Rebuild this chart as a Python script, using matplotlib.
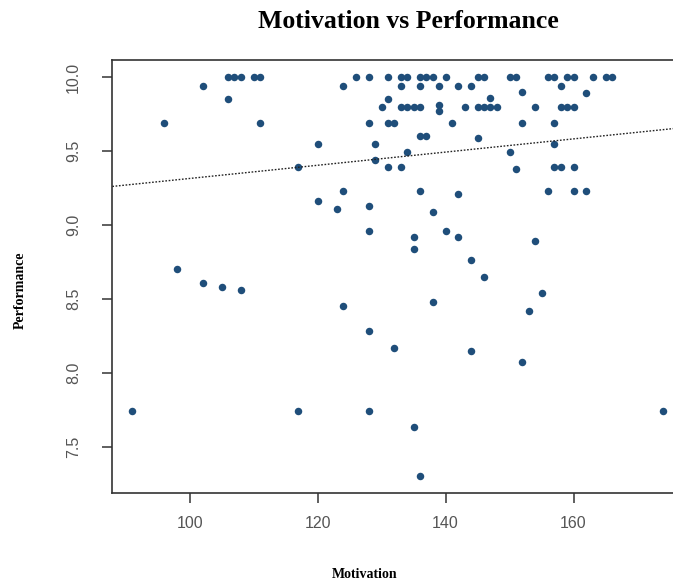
import matplotlib
matplotlib.use("Agg")
import matplotlib.pyplot as plt

# Motivation score (x) and Performance score (y)
motivation = [
    106, 107, 108, 110, 111, 126, 128, 131, 133, 134, 136, 137, 138, 140,
    145, 146, 150, 151, 156, 157, 159, 160, 163, 165, 166,
    102, 124, 133, 136, 139, 142, 144, 158, 152, 162,
    106, 131, 147,
    130, 133, 134, 135, 136, 139, 143, 145, 146, 147, 148, 154, 158, 159, 160, 139,
    96, 111, 128, 131, 132, 141, 152, 157,
    136, 137, 145,
    120, 129, 157,
    134, 150, 129,
    117, 131, 133, 151, 157, 158, 160,
    124, 136, 156, 160, 162, 142,
    120, 128, 123, 138,
    128, 140, 135, 142, 154, 135,
    144, 98, 146, 102, 105, 108, 155, 138, 124, 153,
    128, 132, 144, 152,
    91, 117, 128, 174,
    135, 136,
]
performance = [
    10.0, 10.0, 10.0, 10.0, 10.0, 10.0, 10.0, 10.0, 10.0, 10.0, 10.0, 10.0, 10.0, 10.0,
    10.0, 10.0, 10.0, 10.0, 10.0, 10.0, 10.0, 10.0, 10.0, 10.0, 10.0,
    9.94, 9.94, 9.94, 9.94, 9.94, 9.94, 9.94, 9.94, 9.90, 9.89,
    9.85, 9.85, 9.86,
    9.80, 9.80, 9.80, 9.80, 9.80, 9.81, 9.80, 9.80, 9.80, 9.80, 9.80, 9.80, 9.80, 9.80, 9.80, 9.77,
    9.69, 9.69, 9.69, 9.69, 9.69, 9.69, 9.69, 9.69,
    9.60, 9.60, 9.59,
    9.55, 9.55, 9.55,
    9.49, 9.49, 9.44,
    9.39, 9.39, 9.39, 9.38, 9.39, 9.39, 9.39,
    9.23, 9.23, 9.23, 9.23, 9.23, 9.21,
    9.16, 9.13, 9.11, 9.09,
    8.96, 8.96, 8.92, 8.92, 8.89, 8.835,
    8.76, 8.70, 8.65, 8.61, 8.58, 8.56, 8.54, 8.48, 8.45, 8.42,
    8.28, 8.17, 8.15, 8.07,
    7.74, 7.74, 7.74, 7.74,
    7.63, 7.30,
]

# fitted line drawn dotted across the plot
fit_intercept = 8.868
fit_slope = 0.00446

x_ticks = [100, 120, 140, 160]
y_ticks = [7.5, 8.0, 8.5, 9.0, 9.5, 10.0]

W, H = 673, 584
fig = plt.figure(figsize=(W / 100, H / 100), dpi=100)
# plot region runs past the right edge, like the cropped original
ax = fig.add_axes([112.3 / W, 1 - 492.7 / H, (683.6 - 112.3) / W, (492.7 - 60) / H])

ax.plot(motivation, performance, "o", color="#1f4e7a", markersize=5.4,
        markeredgewidth=0, clip_on=False)
ax.axline((0, fit_intercept), slope=fit_slope, color="#222222",
          linestyle=(0, (1.2, 1.2)), linewidth=1.0)

ax.set_xlim(87.9, 177.2)
ax.set_ylim(7.189, 10.115)

ax.set_xticks(x_ticks)
ax.set_xticklabels([str(t) for t in x_ticks])
ax.set_yticks(y_ticks)
ax.set_yticklabels([f"{t:.1f}" for t in y_ticks], rotation=90, va="center")

for s in ax.spines.values():
    s.set_linewidth(1.2)
    s.set_color("#333333")

ax.tick_params(direction="out", length=7.5, width=1.2, color="#444444",
               labelsize=11.5, labelcolor="#555555")
ax.tick_params(axis="x", pad=9)
ax.tick_params(axis="y", pad=15)
for lab in ax.get_xticklabels() + ax.get_yticklabels():
    lab.set_family("Liberation Sans")

serif = "Liberation Serif"
fig.text(408 / W, 1 - 21 / H, "Motivation vs Performance", ha="center",
         va="center", fontsize=18.5, fontweight="bold", family=serif)
fig.text(365 / W, 1 - 575 / H, "Motivation", ha="center", va="center",
         fontsize=10, fontweight="bold", family=serif)
fig.text(20 / W, 1 - 290 / H, "Performance", ha="center", va="center",
         rotation=90, fontsize=10, fontweight="bold", family=serif)

fig.savefig("out.png", dpi=100)
